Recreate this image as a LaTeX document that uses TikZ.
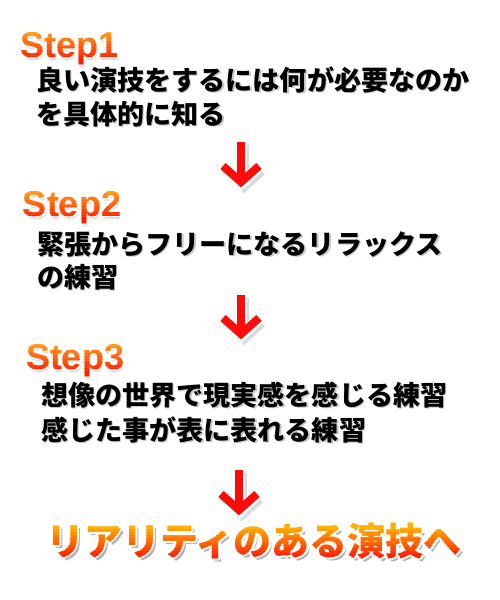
\documentclass[tikz,border=0pt]{standalone}
\usepackage{fontspec}
\newfontfamily\jp{Noto Sans CJK JP}
\newfontfamily\lat{Liberation Sans}
\definecolor{stepTop}{HTML}{FF9A1E}
\definecolor{stepBot}{HTML}{FF1E00}
\definecolor{finTop}{HTML}{FFB000}
\definecolor{finBot}{HTML}{FF2400}
\definecolor{arrowRed}{HTML}{FF0A0A}
\tikzset{
  txt/.style={inner sep=0pt, outer sep=0pt, anchor=base west},
  bodytxt/.style={txt, font=\jp\bfseries\fontsize{27.1}{30}\selectfont},
  steptxt/.style={txt, font=\lat\bfseries\fontsize{36}{40}\selectfont},
  fintxt/.style={txt, font=\jp\bfseries\fontsize{38}{42}\selectfont},
  arrowline/.style={line width=8pt, line cap=butt, line join=miter},
}
% #1 style, #2 x, #3 y, #4 text, #5 top colour, #6 bottom colour, #7 ytop, #8 ybot, #9 outline radius
\newcommand\gradtext[9]{%
  \foreach \a in {0,45,...,315}{
    \node[#1, text=white] at ([shift={(\a:#9)}] #2,#3) {#4};
  }
  \foreach \i in {0,...,9}{
    \pgfmathsetmacro\ya{#7+(#8-#7)*\i/10-(\i==0)*100}
    \pgfmathsetmacro\yb{#7+(#8-#7)*(\i+1)/10+(\i==9)*100}
    \pgfmathtruncatemacro\pc{100-\i*100/9}
    \begin{scope}
      \clip (0,\ya) rectangle (500,\yb);
      \node[#1, text=#5!\pc!#6] at (#2,#3) {#4};
    \end{scope}
  }
}
\newcommand\redarrow[3]{% x, ytop, ytip
  \draw[arrowline, black!14, line width=9pt] (#1+3,#2+3) -- (#1+3,#3);
  \draw[arrowline, black!14, line width=9pt] (#1-15,#3-17) -- (#1+3,#3-1) -- (#1+21,#3-17);
  \draw[arrowline, white, line width=11pt] (#1,#2) -- (#1,#3-4);
  \draw[arrowline, white, line width=11pt] (#1-18,#3-22) -- (#1,#3-4) -- (#1+18,#3-22);
  \draw[arrowline, arrowRed] (#1,#2) -- (#1,#3-4);
  \draw[arrowline, arrowRed] (#1-18,#3-22) -- (#1,#3-6) -- (#1+18,#3-22);
}
\begin{document}
\begin{tikzpicture}[x=1pt,y=-1pt]
\useasboundingbox (0,0) rectangle (500,600);
\fill[white] (0,0) rectangle (500,600);

% Step 1
\node[steptxt, text=black!12] (s1sh) at (21.5,60) {Step1};
\gradtext{steptxt}{20}{57}{Step1}{stepTop}{stepBot}{32}{62}{1.8}
\node[bodytxt, text=black!22] at (37.5,91.5) {良い演技をするには何が必要なのか};
\node[bodytxt] (l1) at (36,90) {良い演技をするには何が必要なのか};
\node[bodytxt, text=black!22] at (37.5,125.5) {を具体的に知る};
\node[bodytxt] (l2) at (36,124) {を具体的に知る};

\redarrow{241}{142}{188}

% Step 2
\node[steptxt, text=black!12] (s2sh) at (24.5,219) {Step2};
\gradtext{steptxt}{23}{216}{Step2}{stepTop}{stepBot}{191}{221}{1.8}
\node[bodytxt, text=black!22] at (38.5,255.5) {緊張からフリーになるリラックス};
\node[bodytxt] (l3) at (37,254) {緊張からフリーになるリラックス};
\node[bodytxt, text=black!22] at (38.5,288.5) {の練習};
\node[bodytxt] (l4) at (37,287) {の練習};

\redarrow{241}{295}{340}

% Step 3
\node[steptxt, text=black!12] (s3sh) at (27.5,372) {Step3};
\gradtext{steptxt}{26}{369}{Step3}{stepTop}{stepBot}{345}{374}{1.8}
\node[bodytxt, text=black!22] at (42.5,406.5) {想像の世界で現実感を感じる練習};
\node[bodytxt] (l5) at (41,405) {想像の世界で現実感を感じる練習};
\node[bodytxt, text=black!22] at (42.5,441.5) {感じた事が表に表れる練習};
\node[bodytxt] (l6) at (41,440) {感じた事が表に表れる練習};

\redarrow{239}{470}{516}

% Final
\node[fintxt, text=black!30] (fsh) at (49,558) {リアリティのある演技へ};
\gradtext{fintxt}{46}{555}{リアリティのある演技へ}{finTop}{finBot}{526}{558}{2.5}
\end{tikzpicture}
\end{document}
